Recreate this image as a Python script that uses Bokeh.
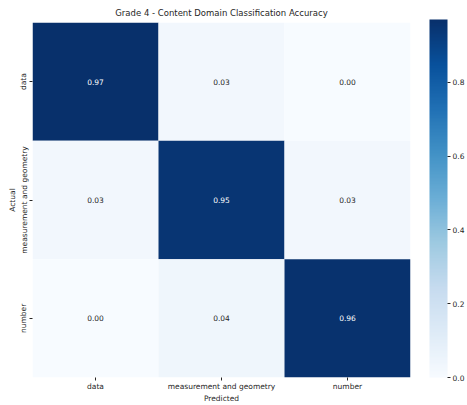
from bokeh.plotting import figure
from bokeh.models import ColumnDataSource, LinearColorMapper, ColorBar, FixedTicker
from bokeh.palettes import Blues256
from bokeh.core.properties import value
from bokeh.embed import file_html
from bokeh.resources import INLINE

categories = ["data", "measurement and geometry", "number"]
actual = ["data", "data", "data",
          "measurement and geometry", "measurement and geometry", "measurement and geometry",
          "number", "number", "number"]
predicted = ["data", "measurement and geometry", "number"] * 3
accuracy = [0.97, 0.03, 0.00,
            0.03, 0.95, 0.03,
            0.00, 0.04, 0.96]
cbar_ticks = [0.0, 0.2, 0.4, 0.6, 0.8]

FONT = "DejaVu Sans"
palette = list(reversed(Blues256))
vmax = max(accuracy)
mapper = LinearColorMapper(palette=palette, low=0.0, high=vmax)

labels = ["%.2f" % v for v in accuracy]
text_colors = ["#ffffff" if v > vmax / 2 else "#262626" for v in accuracy]
src = ColumnDataSource(dict(actual=actual, predicted=predicted, accuracy=accuracy,
                            label=labels, tcolor=text_colors))

p = figure(width=467, height=405, x_range=categories, y_range=list(reversed(categories)),
           output_backend="svg", toolbar_location=None,
           title="Grade 4 - Content Domain Classification Accuracy",
           min_border_left=32, min_border_right=57, min_border_top=5, min_border_bottom=0)
p.rect(x="predicted", y="actual", width=1, height=1, source=src,
       fill_color={"field": "accuracy", "transform": mapper}, line_color=None)
p.text(x="predicted", y="actual", text="label", source=src, text_color="tcolor",
       text_align="center", text_baseline="middle", text_font=value(FONT),
       text_font_size="7.5px")

p.title.align = "center"
p.title.text_font = FONT
p.title.text_font_size = "8.5px"
p.title.text_font_style = "normal"
p.title.text_color = "#262626"

for ax in (p.xaxis[0], p.yaxis[0]):
    ax.axis_line_color = None
    ax.major_tick_line_color = "#262626"
    ax.major_tick_in = 0
    ax.major_tick_out = 3
    ax.minor_tick_line_color = None
    ax.major_label_text_font = FONT
    ax.major_label_text_font_size = "7.5px"
    ax.major_label_text_color = "#262626"
    ax.axis_label_text_font = FONT
    ax.axis_label_text_font_size = "7.5px"
    ax.axis_label_text_font_style = "normal"
    ax.axis_label_text_color = "#262626"
    ax.major_label_standoff = 1
    ax.axis_label_standoff = 0
p.xaxis.axis_label = "Predicted"
p.yaxis.axis_label = "Actual"
p.yaxis.major_label_orientation = "vertical"
p.xgrid.visible = False
p.ygrid.visible = False
p.outline_line_color = None

cb = ColorBar(color_mapper=mapper, ticker=FixedTicker(ticks=cbar_ticks), width=18,
              height=358,
              major_tick_in=0, major_tick_out=3, major_tick_line_color="#262626",
              major_label_text_font=FONT, major_label_text_font_size="7.5px",
              major_label_text_color="#262626", label_standoff=2,
              bar_line_color=None, border_line_color=None, background_fill_color=None,
              padding=0, margin=0,
              location=(397, 0))
cb.major_label_overrides = {t: "%.1f" % t for t in cbar_ticks}
p.add_layout(cb, "center")

open("out.html", "w").write(file_html(p, INLINE))
